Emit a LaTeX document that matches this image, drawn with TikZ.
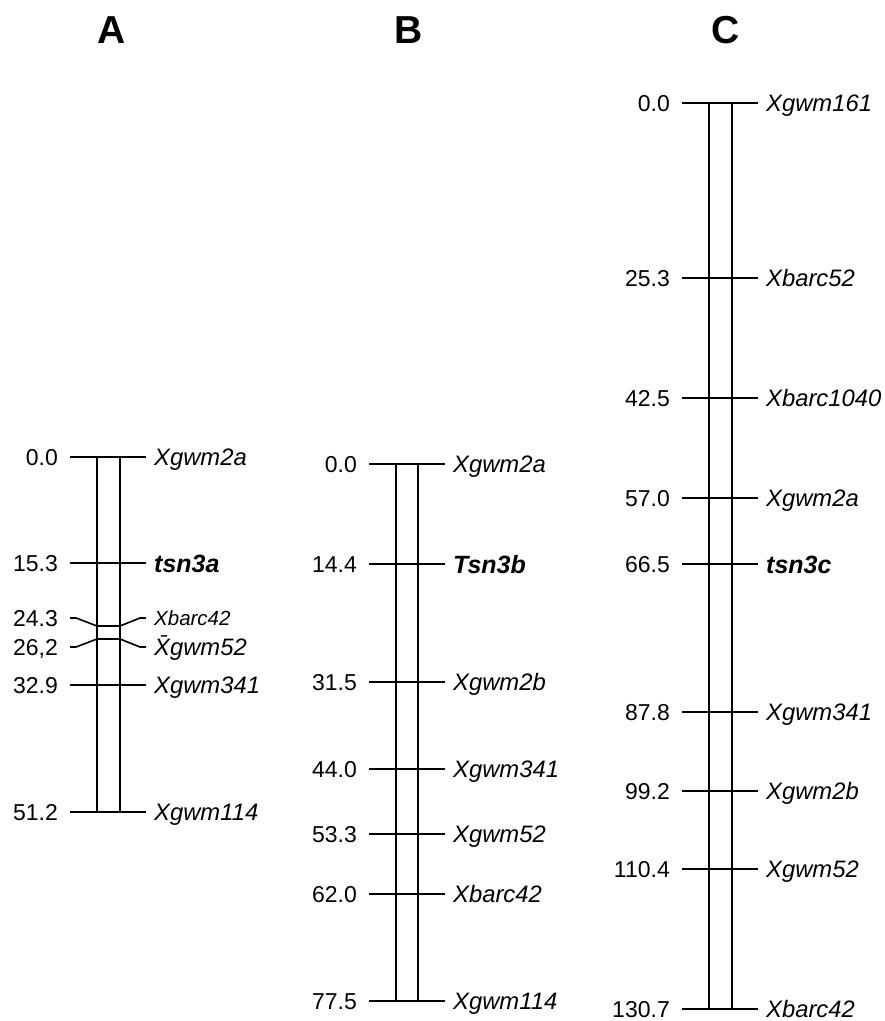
\documentclass[tikz,border=0pt]{standalone}
\usepackage{fontspec}
\setmainfont{Liberation Sans}
\tikzset{
  lw/.style={line width=1.6pt},
  cmlabel/.style={anchor=base east, inner sep=0pt, yshift=-8.2pt,
    font=\fontsize{23}{23}\selectfont},
  mk/.style={anchor=base west, inner sep=0pt, yshift=-8.5pt,
    font=\fontsize{23.8}{23.8}\selectfont\itshape},
  mksmall/.style={anchor=base west, inner sep=0pt, yshift=-7.3pt,
    font=\fontsize{20.5}{20.5}\selectfont\itshape},
  gene/.style={anchor=base west, inner sep=0pt, yshift=-9pt,
    font=\fontsize{25}{25}\selectfont\bfseries\itshape},
  title/.style={inner sep=0pt, font=\fontsize{39}{39}\selectfont\bfseries}
}
% scale: cM -> px
\def\cmscale{6.935}
% #1 name, #2 bar left x, #3 top y, #4 position (cM), #5 printed position,
% #6 marker name, #7 marker style
\newcommand\mapmark[7]{%
  \coordinate (#1l) at ({#2-27},{round(#3+\cmscale*#4)});
  \coordinate (#1r) at ({#2+49},{round(#3+\cmscale*#4)});
  \node[cmlabel] (#1n) at ([xshift=-12pt]#1l) {#5};
  \node[#7] (#1m) at ([xshift=8pt]#1r) {#6};
  \draw[lw] (#1l) -- (#1r);
}
\begin{document}
\begin{tikzpicture}[x=1pt,y=-1pt]
\useasboundingbox (0,0) rectangle (885,1021);

% titles
\node[title] (tA) at (112,30) {A};
\node[title] (tB) at (409,30) {B};
\node[title] (tC) at (726,30) {C};

% ---- linkage group A ----
\draw[lw] (97,457) rectangle (120,812);
\mapmark{a0}{97}{457}{0}{0.0}{Xgwm2a}{mk}
\mapmark{a1}{97}{457}{15.3}{15.3}{tsn3a}{gene}
\mapmark{a4}{97}{457}{32.9}{32.9}{Xgwm341}{mk}
\mapmark{a5}{97}{457}{51.2}{51.2}{Xgwm114}{mk}
% two close markers spread apart by bent ticks
\coordinate (a2l) at (70,618);
\coordinate (a2r) at (146,618);
\coordinate (a3l) at (70,647);
\coordinate (a3r) at (146,647);
\draw[lw] (a2l) -- (76,618) -- (97,626) -- (120,626) -- (140,618) -- (a2r);
\draw[lw] (a3l) -- (76,647) -- (97,639) -- (120,639) -- (140,647) -- (a3r);
\node[cmlabel] (a2n) at ([xshift=-12pt]a2l) {24.3};
\node[cmlabel] (a3n) at ([xshift=-12pt]a3l) {26,2};
\node[mksmall] (a2m) at ([xshift=8pt]a2r) {Xbarc42};
\node[mk] (a3m) at ([xshift=8pt]a3r) {\={X}gwm52};

% ---- linkage group B ----
\draw[lw] (396,464) rectangle (418,1001);
\mapmark{b0}{396}{464}{0}{0.0}{Xgwm2a}{mk}
\mapmark{b1}{396}{464}{14.4}{14.4}{Tsn3b}{gene}
\mapmark{b2}{396}{464}{31.5}{31.5}{Xgwm2b}{mk}
\mapmark{b3}{396}{464}{44.0}{44.0}{Xgwm341}{mk}
\mapmark{b4}{396}{464}{53.3}{53.3}{Xgwm52}{mk}
\mapmark{b5}{396}{464}{62.0}{62.0}{Xbarc42}{mk}
\mapmark{b6}{396}{464}{77.5}{77.5}{Xgwm114}{mk}

% ---- linkage group C ----
\draw[lw] (709,103) rectangle (732,1009);
\mapmark{c0}{709}{103}{0}{0.0}{Xgwm161}{mk}
\mapmark{c1}{709}{103}{25.3}{25.3}{Xbarc52}{mk}
\mapmark{c2}{709}{103}{42.5}{42.5}{Xbarc1040}{mk}
\mapmark{c3}{709}{103}{57.0}{57.0}{Xgwm2a}{mk}
\mapmark{c4}{709}{103}{66.5}{66.5}{tsn3c}{gene}
\mapmark{c5}{709}{103}{87.8}{87.8}{Xgwm341}{mk}
\mapmark{c6}{709}{103}{99.2}{99.2}{Xgwm2b}{mk}
\mapmark{c7}{709}{103}{110.4}{110.4}{Xgwm52}{mk}
\mapmark{c8}{709}{103}{130.7}{130.7}{Xbarc42}{mk}
\end{tikzpicture}
\end{document}
